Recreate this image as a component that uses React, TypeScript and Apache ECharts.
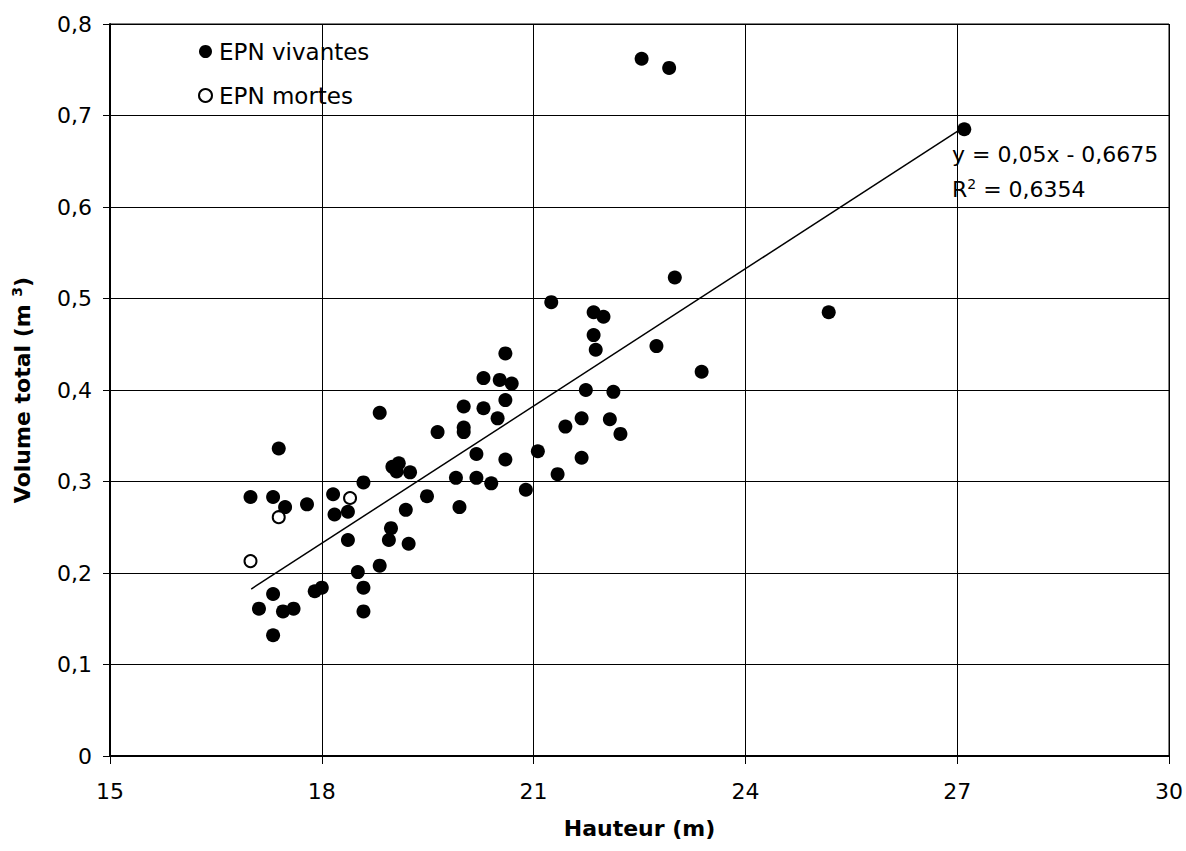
import React, { useEffect, useRef } from "react";
import * as echarts from "echarts";

const vivantes: [number, number][] = [
  [21.25, 0.496], [21.85, 0.485], [21.99, 0.48], [21.85, 0.46], [21.88, 0.444],
  [20.6, 0.44], [20.29, 0.413], [20.52, 0.411], [20.69, 0.407], [21.74, 0.4],
  [22.13, 0.398], [20.6, 0.389], [20.01, 0.382], [20.29, 0.38], [18.82, 0.375],
  [20.49, 0.369], [21.68, 0.369], [22.08, 0.368], [21.45, 0.36], [19.64, 0.354],
  [20.01, 0.359], [20.01, 0.354], [22.23, 0.352], [17.39, 0.336], [21.06, 0.333],
  [20.19, 0.33], [20.6, 0.324], [21.68, 0.326], [19.09, 0.32], [19.0, 0.316],
  [19.06, 0.311], [19.25, 0.31], [21.34, 0.308], [19.9, 0.304], [20.19, 0.304],
  [20.4, 0.298], [18.59, 0.299], [20.89, 0.291], [16.99, 0.283], [17.31, 0.283],
  [18.16, 0.286], [19.49, 0.284], [17.79, 0.275], [17.48, 0.272], [19.95, 0.272],
  [18.18, 0.264], [18.37, 0.267], [19.19, 0.269], [18.98, 0.249], [18.37, 0.236],
  [18.95, 0.236], [19.23, 0.232], [18.51, 0.201], [18.82, 0.208], [17.31, 0.177],
  [17.9, 0.18], [18.0, 0.184], [18.59, 0.184], [17.11, 0.161], [17.45, 0.158],
  [17.6, 0.161], [18.59, 0.158], [17.31, 0.132],
  [23.0, 0.523], [25.18, 0.485], [22.74, 0.448], [23.38, 0.42],
  [22.53, 0.762], [22.92, 0.752], [27.1, 0.685],
];

const mortes: [number, number][] = [
  [16.99, 0.213], [17.39, 0.261], [18.4, 0.282],
];

const trendSlope = 0.05;
const trendIntercept = -0.6675;
const trendRange = [17.0, 27.1];
const equationText = "y = 0,05x - 0,6675";
const r2Text = "0,6354";

const xTicks = [15, 18, 21, 24, 27, 30];
const FONT = "'DejaVu Sans', 'Liberation Sans', Arial, sans-serif";

export default function App() {
  const ref = useRef<HTMLDivElement>(null);
  useEffect(() => {
    if (!ref.current) return;
    const chart = echarts.init(ref.current, null, { renderer: "svg" });
    const trendData = trendRange.map((x) => [x, trendSlope * x + trendIntercept]);
    const fmt = (v: number) => String(Math.round(v * 10) / 10).replace(".", ",");
    chart.setOption({
      animation: false,
      backgroundColor: "#fff",
      textStyle: { fontFamily: FONT },
      grid: {
        left: 110, right: 16, top: 24, bottom: 95,
        show: true, borderColor: "#000", borderWidth: 1,
      },
      legend: {
        data: ["EPN vivantes", "EPN mortes"],
        orient: "vertical",
        left: 193, top: 35,
        itemWidth: 13, itemHeight: 13, itemGap: 21,
        textStyle: { fontFamily: FONT, fontSize: 23, color: "#000", padding: [0, 0, 4, 2] },
      },
      xAxis: {
        type: "value", min: xTicks[0], max: xTicks[xTicks.length - 1], interval: 3,
        name: "Hauteur (m)", nameLocation: "middle", nameGap: 61,
        nameTextStyle: { fontFamily: FONT, fontSize: 22, fontWeight: "bold", color: "#000" },
        axisLine: { show: true, lineStyle: { color: "#000", width: 2 } },
        axisTick: { show: true, length: 8, lineStyle: { color: "#000" } },
        axisLabel: { fontFamily: FONT, fontSize: 22, color: "#000", margin: 24 },
        splitLine: { show: true, lineStyle: { color: "#000", width: 1 } },
      },
      yAxis: {
        type: "value", min: 0, max: 0.8, interval: 0.1,
        name: "Volume total (m {sup|3})", nameLocation: "middle", nameGap: 76,
        nameTextStyle: {
          fontFamily: FONT, fontSize: 22, fontWeight: "bold", color: "#000",
          rich: { sup: { fontSize: 14, fontWeight: "bold", verticalAlign: "top", padding: [0, 0, 10, 0], fontFamily: FONT } },
        },
        axisLine: { show: true, lineStyle: { color: "#000", width: 2 } },
        axisTick: { show: true, length: 7, lineStyle: { color: "#000" } },
        axisLabel: { fontFamily: FONT, fontSize: 22, color: "#000", margin: 18, formatter: fmt },
        splitLine: { show: true, lineStyle: { color: "#000", width: 1 } },
      },
      series: [
        {
          name: "EPN vivantes", type: "scatter", data: vivantes,
          symbol: "circle", symbolSize: 14,
          itemStyle: { color: "#000", opacity: 1 },
          z: 3,
        },
        {
          name: "EPN mortes", type: "scatter", data: mortes,
          symbol: "circle", symbolSize: 12,
          itemStyle: { color: "#fff", borderColor: "#000", borderWidth: 2, opacity: 1 },
          z: 3,
        },
        {
          name: "trend", type: "line", data: trendData,
          symbol: "none", lineStyle: { color: "#000", width: 1.5 },
          z: 2,
        },
      ],
      graphic: [
        {
          type: "text", left: 952, top: 143,
          style: { text: equationText, fontFamily: FONT, fontSize: 22, fill: "#000" },
        },
        {
          type: "text", left: 952, top: 177,
          style: {
            text: "R{sup|2} = " + r2Text,
            fontFamily: FONT, fontSize: 22, fill: "#000",
            rich: {
              sup: { fontSize: 14, verticalAlign: "top", padding: [0, 0, 10, 0], fontFamily: FONT, fill: "#000" },
            },
          },
        },
      ],
    });
    return () => chart.dispose();
  }, []);
  return <div ref={ref} style={{ width: 1186, height: 851, position: "absolute", left: 0, top: 0 }} />;
}
